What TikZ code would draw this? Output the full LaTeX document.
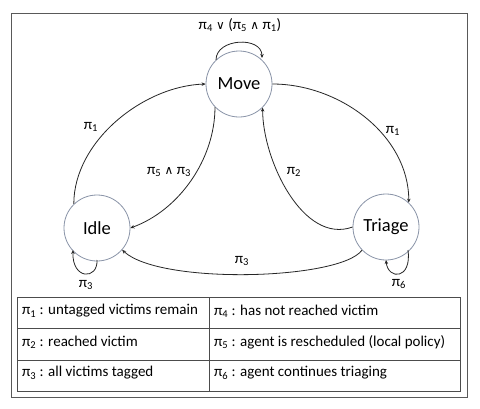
\documentclass[tikz,border=0pt]{standalone}
\usepackage{fontspec}
\setmainfont{Carlito}
\newfontfamily\symf{DejaVu Sans}
\usetikzlibrary{arrows.meta}
\newcommand{\pis}[1]{π\textsubscript{#1}}
\newcommand{\myor}{{\symf\fontsize{12}{14}\selectfont ∨}}
\newcommand{\myand}{{\symf\fontsize{12}{14}\selectfont ∧}}
\begin{document}
\begin{tikzpicture}[x=1pt,y=-1pt,
  state/.style={circle,draw=circ,line width=0.8pt,minimum size=66pt,inner sep=0pt,font=\fontsize{18.5}{20}\selectfont},
  arr/.style={-{Stealth[length=4pt,width=3.5pt]},line width=0.8pt,black!85},
  lbl/.style={font=\fontsize{15}{17}\selectfont,inner sep=1pt},
  cell/.style={font=\fontsize{15}{17}\selectfont,anchor=west,inner sep=0pt}]
\definecolor{circ}{HTML}{8A94A8}
\useasboundingbox (0,0) rectangle (480,408);
\fill[white] (0,0) rectangle (480,408);
\draw[black!65,line width=0.9pt] (11,13) rectangle (467,397);
% states
\node[state] (move) at (239,84) {Move};
\node[state] (idle) at (97,228) {Idle};
\node[state] (triage) at (386,227) {Triage};
% transitions
\draw[arr] (idle.134) to[out=90,in=182,looseness=0.9] (move.180);
\draw[arr] (move.0) to[out=0,in=90,looseness=0.95] (triage.47);
\draw[arr] (move.224) to[out=270,in=20,looseness=0.9] (idle.0);
\draw[arr] (triage.180) to[out=200,in=270,looseness=0.9] (move.315);
\draw[arr] (triage.224) .. controls (340,280) and (160,285) .. (idle.319);
% self loops
\coordinate (m1) at (216,60);
\coordinate (m2) at (262,58);
\draw[arr] (m1) .. controls (216,38) and (262,36) .. (m2);
\coordinate (i1) at (97,260);
\coordinate (i2) at (73,250);
\draw[arr] (i1) .. controls (98,280) and (72,280) .. (i2);
\coordinate (t1) at (408,250);
\coordinate (t2) at (386,260);
\draw[arr] (t1) .. controls (412,280) and (388,280) .. (t2);
% labels
\node[lbl] (l1) at (91,127) {\pis{1}};
\node[lbl] (l2) at (393,131) {\pis{1}};
\node[lbl] (l3) at (169,172) {\pis{5} \myand\ \pis{3}};
\node[lbl] (l4) at (294,172) {\pis{2}};
\node[lbl] (l5) at (242,261) {\pis{3}};
\node[lbl] (l6) at (240,25) {\pis{4} \myor\ (\pis{5} \myand\ \pis{1})};
\node[lbl] (l7) at (86,285) {\pis{3}};
\node[lbl] (l8) at (399,284) {\pis{6}};
% table
\draw[black!70,line width=0.9pt] (17,297) rectangle (460,391);
\draw[black!70,line width=0.9pt] (209,297) -- (209,391);
\draw[black!70,line width=0.9pt] (17,328) -- (460,328);
\draw[black!70,line width=0.9pt] (17,360) -- (460,360);
\node[cell] (c1) at (22,311) {\pis{1} : untagged victims remain};
\node[cell] (c2) at (22,342) {\pis{2} : reached victim};
\node[cell] (c3) at (22,373) {\pis{3} : all victims tagged};
\node[cell] (c4) at (214,311) {\pis{4} : has not reached victim};
\node[cell] (c5) at (214,342) {\pis{5} : agent is rescheduled (local policy)};
\node[cell] (c6) at (214,373) {\pis{6} : agent continues triaging};
\end{tikzpicture}
\end{document}
